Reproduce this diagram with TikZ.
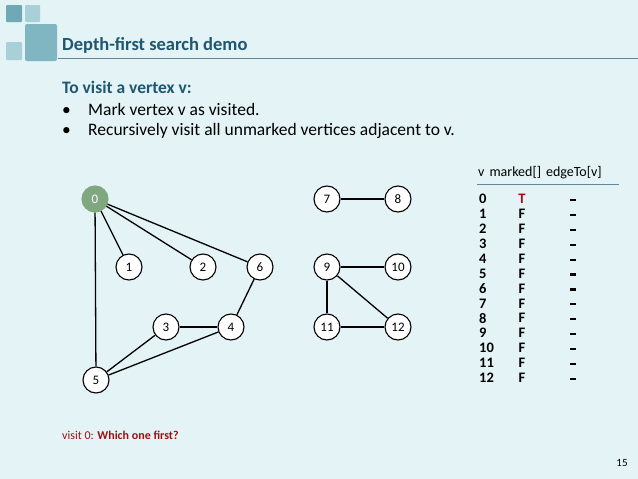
\documentclass[tikz,border=0pt]{standalone}
\usepackage{fontspec}
\setmainfont{Carlito}
\definecolor{bg}{HTML}{E4F3F6}
\definecolor{ttl}{HTML}{1F5670}
\definecolor{sqa}{HTML}{6FA9B5}
\definecolor{sqb}{HTML}{A9D0D8}
\definecolor{sqc}{HTML}{80B6C1}
\definecolor{vis}{HTML}{7FA881}
\definecolor{dred}{HTML}{A01010}
\tikzset{vtx/.style={circle,draw,line width=1.1pt,fill=white,minimum size=26pt,inner sep=0pt,font=\fontsize{13}{15}\selectfont},
edge/.style={line width=1.3pt},
row/.style={font=\bfseries\fontsize{14.5}{15}\selectfont,inner sep=0pt}}
\begin{document}
\begin{tikzpicture}[x=1pt,y=-1pt]
\fill[bg] (0,0) rectangle (638,479);
\useasboundingbox (0,0) rectangle (638,479);
\fill[sqa,rounded corners=1pt] (6,5) rectangle (22,22);
\fill[sqb,rounded corners=1pt] (25,5) rectangle (40,22);
\fill[sqc,rounded corners=2pt] (25,24) rectangle (57,61);
\fill[sqb,rounded corners=1pt] (6,42) rectangle (22,60);
\draw[ttl!70,line width=0.8pt] (58,58) -- (638,58);
\node[anchor=west,inner sep=0pt,text=ttl,font=\bfseries\fontsize{18.5}{20}\selectfont] (title) at (62,45) {Depth-first search demo};
\node[anchor=west,inner sep=0pt,text=ttl,font=\bfseries\fontsize{17.5}{19}\selectfont] (t1) at (62,87) {To visit a vertex v:};
\node[anchor=west,inner sep=0pt,font=\fontsize{17.5}{19}\selectfont] (b1) at (62,109) {\makebox[26pt][l]{•}Mark vertex v as visited.};
\node[anchor=west,inner sep=0pt,font=\fontsize{17.5}{19}\selectfont] (b2) at (62,131) {\makebox[26pt][l]{•}Recursively visit all unmarked vertices adjacent to v.};
\node[vtx,fill=vis,draw=vis,text=white] (n0) at (95,199) {0};
\node[vtx] (n1) at (129,267) {1};
\node[vtx] (n2) at (203,267) {2};
\node[vtx] (n6) at (260,267) {6};
\node[vtx] (n3) at (166,327) {3};
\node[vtx] (n4) at (231,327) {4};
\node[vtx] (n5) at (96,380) {5};
\node[vtx] (n7) at (327,199) {7};
\node[vtx] (n8) at (398,199) {8};
\node[vtx] (n9) at (327,267) {9};
\node[vtx] (n10) at (398,267) {10};
\node[vtx] (n11) at (327,327) {11};
\node[vtx] (n12) at (398,327) {12};
\foreach \a/\b in {n0/n1,n0/n2,n0/n6,n0/n5,n6/n4,n3/n4,n3/n5,n4/n5,n7/n8,n9/n10,n9/n11,n9/n12,n11/n12}
  \draw[edge] (\a) -- (\b);
\node[anchor=west,inner sep=0pt,font=\fontsize{14}{15}\selectfont] (hd) at (478,173) {v\hspace{5pt}marked[]\hspace{5pt}edgeTo[v]};
\draw[ttl!70,line width=0.8pt] (477,184) -- (619,184);
\foreach \i in {0,...,12}{
  \node[row,anchor=west] (v\i) at (479,{199+14.9*\i}) {\i};
  \node[fill=black,minimum width=6pt,minimum height=2.2pt,inner sep=0pt] (e\i) at (573,{200+14.9*\i}) {};
}
\node[row,text=dred] (m0) at (522,199) {T};
\foreach \i in {1,...,12}{\node[row] (m\i) at (522,{199+14.9*\i}) {F};}
\node[anchor=west,inner sep=0pt,text=dred,font=\fontsize{12}{14}\selectfont] (foot) at (62,435) {visit 0: \textbf{Which one first?}};
\node[font=\fontsize{11}{13}\selectfont] (pg) at (622,463) {15};
\end{tikzpicture}
\end{document}
